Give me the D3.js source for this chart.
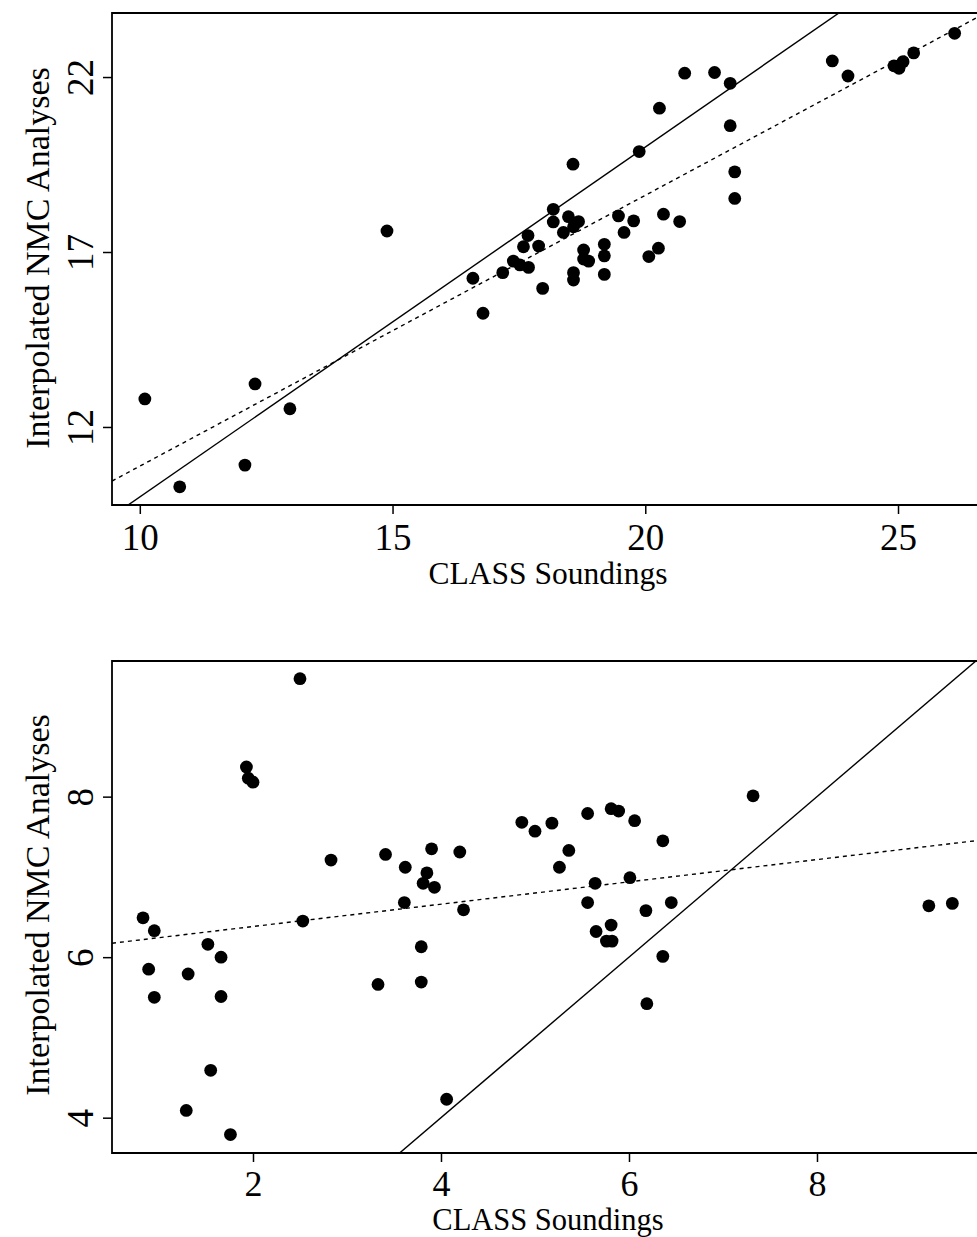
<!DOCTYPE html>
<html><head><meta charset="utf-8">
<script src="https://cdn.jsdelivr.net/npm/d3@7"></script>
<style>
body{margin:0;background:#fff}
svg{display:block}
text{font-family:"Liberation Serif","DejaVu Serif",serif;fill:#000}
</style>
</head><body>
<svg id="chart" width="977" height="1237"></svg>
<script>
// ---------- data ----------
const topClass = [10.10,10.79,12.08,12.28,12.97,14.89,16.59,16.79,17.18,17.39,17.52,17.69,17.68,17.59,17.89,17.97,18.18,18.18,18.48,18.68,18.58,18.38,18.57,18.58,18.58,18.78,18.88,18.78,19.19,19.19,19.19,19.47,19.58,19.77,19.88,20.07,20.26,20.28,20.36,20.68,20.78,21.37,21.68,21.68,21.77,21.77,23.70,24.01,24.92,25.02,25.10,25.31,26.12];
const topNmc   = [12.80,10.29,10.91,13.23,12.52,17.60,16.25,15.25,16.41,16.74,16.63,16.56,17.47,17.15,17.17,15.96,18.22,17.86,18.01,17.87,17.72,17.56,19.51,16.41,16.20,17.06,16.74,16.80,17.22,16.89,16.36,18.03,17.56,17.89,19.87,16.87,17.11,21.11,18.08,17.87,22.11,22.13,21.82,20.61,19.29,18.53,22.46,22.03,22.32,22.25,22.44,22.69,23.25];
const topXTicks = [10,15,20,25];
const topYTicks = [12,17,22];
const topXDomain = [9.45, 26.8];
const topYDomain = [9.77, 23.83];
const topFitIntercept = 3.14, topFitSlope = 0.774;

const botClass = [0.83,0.95,0.89,0.95,1.31,1.29,1.52,1.66,1.66,1.55,1.76,1.93,1.95,2.00,2.50,2.53,2.83,3.33,3.41,3.62,3.61,3.79,3.79,3.81,3.85,3.90,3.93,4.06,4.20,4.24,4.86,5.00,5.18,5.26,5.36,5.56,5.56,5.64,5.65,5.76,5.82,5.81,5.81,5.89,6.01,6.06,6.18,6.19,6.36,6.36,6.45,7.32,9.19,9.44];
const botNmc   = [6.49,6.33,5.85,5.50,5.79,4.09,6.16,6.00,5.51,4.59,3.79,8.37,8.23,8.18,9.47,6.45,7.21,5.66,7.28,7.12,6.68,6.13,5.69,6.92,7.05,7.35,6.87,4.23,7.31,6.59,7.68,7.57,7.67,7.12,7.33,7.79,6.68,6.92,6.32,6.20,6.20,6.40,7.85,7.82,6.99,7.70,6.58,5.42,7.45,6.01,6.68,8.01,6.64,6.67];
const botXTicks = [2,4,6,8];
const botYTicks = [4,6,8];
const botXDomain = [0.5, 9.83];
const botYDomain = [3.56, 9.69];
const botFitIntercept = 6.104, botFitSlope = 0.139;

const xTitle = "CLASS Soundings";
const yTitle = "Interpolated NMC Analyses";

// ---------- drawing ----------
const svg = d3.select("#chart");
const fmt = d3.format("d");

function panel(cfg){
  const x = d3.scaleLinear().domain(cfg.xDomain).range([cfg.left, cfg.right]);
  const y = d3.scaleLinear().domain(cfg.yDomain).range([cfg.bottom, cfg.top]);
  const g = svg.append("g");
  const clipId = "clip" + cfg.id;
  svg.append("clipPath").attr("id", clipId).append("rect")
     .attr("x", cfg.left).attr("y", cfg.top)
     .attr("width", cfg.right - cfg.left).attr("height", cfg.bottom - cfg.top);

  const plot = g.append("g").attr("clip-path", `url(#${clipId})`);
  const xs = cfg.xDomain;
  // identity line
  plot.append("line")
    .attr("x1", x(xs[0])).attr("y1", y(xs[0]))
    .attr("x2", x(xs[1])).attr("y2", y(xs[1]))
    .attr("stroke", "#000").attr("stroke-width", 1.4);
  // fitted (dotted) line
  plot.append("line")
    .attr("x1", x(xs[0])).attr("y1", y(cfg.a + cfg.b*xs[0]))
    .attr("x2", x(xs[1])).attr("y2", y(cfg.a + cfg.b*xs[1]))
    .attr("stroke", "#000").attr("stroke-width", 1.4)
    .attr("stroke-dasharray", "4,4");
  // points
  plot.selectAll("circle").data(cfg.xv.map((v,i)=>[v, cfg.yv[i]]))
    .enter().append("circle")
    .attr("cx", d=>x(d[0])).attr("cy", d=>y(d[1])).attr("r", 6.4).attr("fill", "#000");

  // frame: left, top, bottom
  g.append("path")
    .attr("d", `M${cfg.right},${cfg.top}H${cfg.left}V${cfg.bottom}H${cfg.right}`)
    .attr("fill", "none").attr("stroke", "#000").attr("stroke-width", 1.8);

  // x axis
  const xa = g.append("g").attr("transform", `translate(0,${cfg.bottom})`)
    .call(d3.axisBottom(x).tickValues(cfg.xTicks).tickFormat(fmt).tickSize(9).tickSizeOuter(0));
  xa.select(".domain").remove();
  xa.selectAll(".tick line").attr("stroke-width", 1.5);
  xa.selectAll(".tick text").attr("font-size", cfg.xTickSize).attr("font-family", "Liberation Serif")
    .attr("y", cfg.xLabelBase).attr("dy", 0);

  // y axis
  const ya = g.append("g").attr("transform", `translate(${cfg.left},0)`)
    .call(d3.axisLeft(y).tickValues(cfg.yTicks).tickFormat(fmt).tickSize(9).tickSizeOuter(0));
  ya.select(".domain").remove();
  ya.selectAll(".tick line").attr("stroke-width", 1.5);
  ya.selectAll(".tick text").attr("font-size", 37).attr("font-family", "Liberation Serif")
    .attr("x", 0).attr("dy", 0).attr("y", -19)
    .attr("text-anchor", "middle").attr("transform", "rotate(-90)");

  // titles
  g.append("text").attr("x", 548).attr("y", cfg.xTitleBase)
    .attr("text-anchor", "middle").attr("font-size", cfg.xTitleSize).text(xTitle);
  g.append("text")
    .attr("transform", `translate(49,${cfg.yTitleCenter}) rotate(-90)`)
    .attr("text-anchor", "middle").attr("font-size", 34).text(yTitle);
}

panel({id:1, xv:topClass, yv:topNmc, xDomain:topXDomain, yDomain:topYDomain,
  xTicks:topXTicks, yTicks:topYTicks, a:topFitIntercept, b:topFitSlope,
  left:112, right:989, top:13, bottom:505, xLabelBase:45, xTickSize:37,
  xTitleBase:584, xTitleSize:31.5, yTitleCenter:258});

panel({id:2, xv:botClass, yv:botNmc, xDomain:botXDomain, yDomain:botYDomain,
  xTicks:botXTicks, yTicks:botYTicks, a:botFitIntercept, b:botFitSlope,
  left:112, right:989, top:661, bottom:1153, xLabelBase:43, xTickSize:36,
  xTitleBase:1230, xTitleSize:30.5, yTitleCenter:905});
</script>
</body></html>
